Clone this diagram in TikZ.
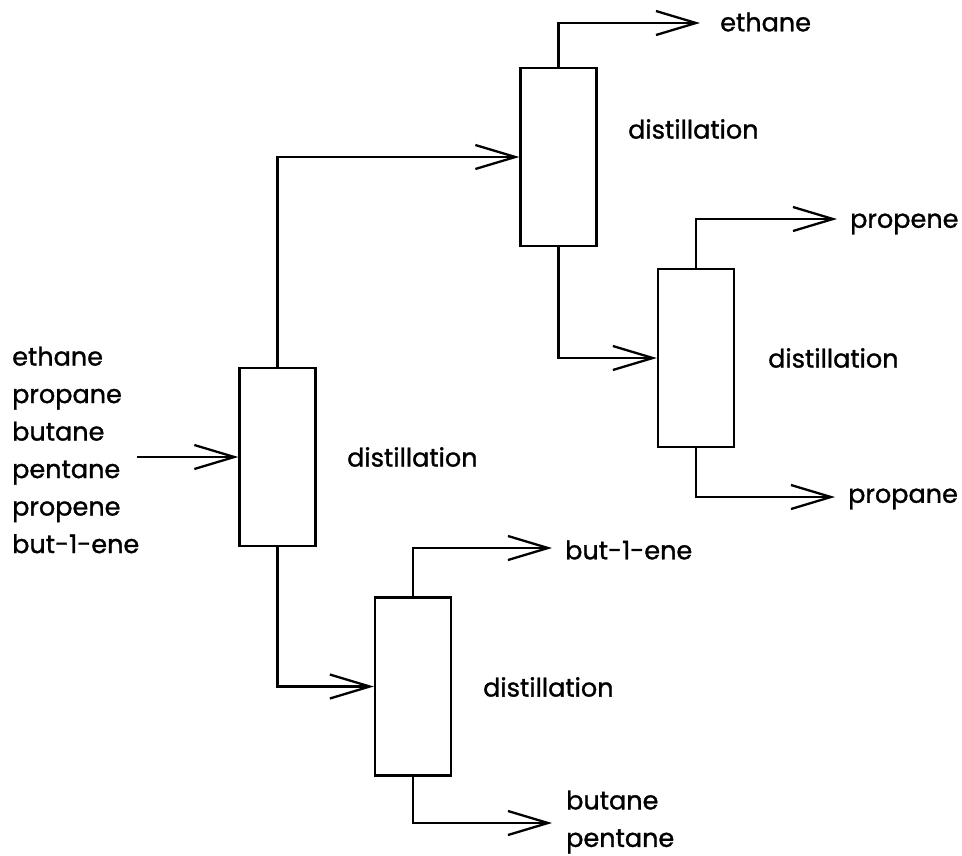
\documentclass[tikz,border=0pt]{standalone}
\usepackage{fontspec}
\setmainfont{Poppins}[FakeBold=1.2]
\usetikzlibrary{arrows.meta}
\begin{document}
\begin{tikzpicture}[x=1pt,y=-1pt,
  column/.style={draw, line width=2.3pt, minimum width=76pt, minimum height=178pt, inner sep=0pt},
  flow/.style={line width=2.3pt, -{Straight Barb[length=40pt,width=24pt,line width=2.3pt]}},
  lab/.style={font=\fontsize{25.5}{37.5}\selectfont, inner sep=0pt, anchor=west, align=left}]
\useasboundingbox (0,0) rectangle (962,855);
% columns
\node[column] (A) at (277.5,457) {};
\node[column] (B) at (558.5,157) {};
\node[column] (C) at (696,358) {};
\node[column] (D) at (413,686.5) {};
% labels
\node[lab] (LA) at (347,457) {distillation};
\node[lab] (LB) at (628,129) {distillation};
\node[lab] (LC) at (768,358) {distillation};
\node[lab] (LD) at (483,687) {distillation};
\node[lab] (feed) at (12,450) {ethane\\propane\\butane\\pentane\\propene\\but-1-ene};
\node[lab] (eth) at (720,22) {ethane};
\node[lab] (ppe) at (850,224) {propene};
\node[lab] (ppa) at (848,499) {propane};
\node[lab] (bte) at (565,550) {but-1-ene};
\node[lab] (bp) at (566,822) {butane\\pentane};
% free ends
\coordinate (in) at (137,457);
\coordinate (e1) at (700,23);
\coordinate (c1) at (837,219);
\coordinate (c2) at (835,497);
\coordinate (d1) at (552,548);
\coordinate (d2) at (552,823);
% connectors
\draw[flow] (in) -- (A.west);
\draw[flow] (A.north) |- (B.west);
\draw[flow] (A.south) |- (D.west);
\draw[flow] (B.north) |- (e1);
\draw[flow] (B.south) |- (C.west);
\draw[flow] (C.north) |- (c1);
\draw[flow] (C.south) |- (c2);
\draw[flow] (D.north) |- (d1);
\draw[flow] (D.south) |- (d2);
\end{tikzpicture}
\end{document}
